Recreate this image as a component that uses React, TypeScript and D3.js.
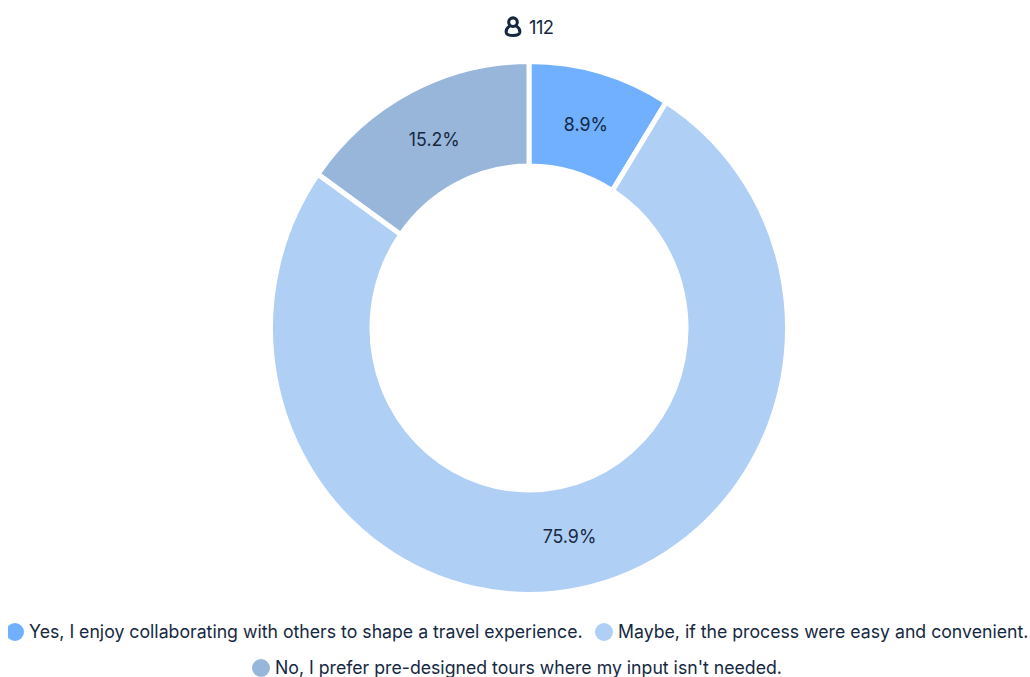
import React from "react";
import * as d3 from "d3";

const categories = [
  "Yes, I enjoy collaborating with others to shape a travel experience.",
  "Maybe, if the process were easy and convenient.",
  "No, I prefer pre-designed tours where my input isn't needed.",
];
const shares = [8.9, 75.9, 15.2];
const colors = ["#70b0ff", "#b0cff5", "#98b5da"];
const respondents = 112;

const WIDTH = 1030;
const HEIGHT = 677;
const CX = 529;
const CY = 328;
const OUTER = 258.5;
const INNER = 157;
const LABEL_RADIUS = 206;
const STRETCH_Y = 1.031;
const INK = "#15283f";
const FONT = "Inter, 'Noto Sans', sans-serif";

// Legend rows: marker centre, text start and baseline for each entry.
const legendX = [
  { marker: 15, text: 29 },
  { marker: 604, text: 618 },
  { marker: 261, text: 275 },
];
const legendY = [632, 632, 668];

const stretchAt = (x: number, y: number) => `translate(${x},${y}) scale(1,${STRETCH_Y})`;

export default function App() {
  const pie = d3.pie<number>().sort(null).value((d) => d);
  const arc = d3.arc<d3.PieArcDatum<number>>().innerRadius(INNER).outerRadius(OUTER);
  const labelArc = d3
    .arc<d3.PieArcDatum<number>>()
    .innerRadius(LABEL_RADIUS)
    .outerRadius(LABEL_RADIUS);
  const slices = pie(shares);

  return (
    <svg
      width={WIDTH}
      height={HEIGHT}
      viewBox={`0 0 ${WIDTH} ${HEIGHT}`}
      style={{ position: "absolute", left: 0, top: 0, display: "block", background: "#fff" }}
      fontFamily={FONT}
    >
      {/* Respondent count with person icon */}
      <g transform="translate(513,27)" fill="none" stroke={INK} strokeWidth={3.1}>
        <circle cx={0} cy={-4.8} r={4.3} />
        <path d="M-3.2,-1 C-6.6,1 -7.2,3 -6.7,5.6 C-6.1,8 -4,8.5 0,8.5 C4,8.5 6.1,8 6.7,5.6 C7.2,3 6.6,1 3.2,-1" />
      </g>
      <text transform={stretchAt(529, 34)} fontSize={18.4} fill={INK} letterSpacing={-0.6}>
        {respondents}
      </text>

      {/* Donut slices */}
      <g transform={stretchAt(CX, CY)}>
        {slices.map((s, i) => (
          <path key={i} d={arc(s) ?? ""} fill={colors[i]} stroke="#fff" strokeWidth={5} />
        ))}
        {slices.map((s, i) => {
          const [x, y] = labelArc.centroid(s);
          return (
            <text
              key={i}
              x={x}
              y={y}
              textAnchor="middle"
              dominantBaseline="central"
              fontSize={17.8}
              fill={INK}
            >
              {`${s.data.toFixed(1)}%`}
            </text>
          );
        })}
      </g>

      {/* Legend; the first marker sits against the page edge margin */}
      <clipPath id="legend-clip">
        <rect x={8} y={0} width={WIDTH - 8} height={HEIGHT} />
      </clipPath>
      {categories.map((c, i) => (
        <g key={c}>
          <circle
            cx={legendX[i].marker}
            cy={legendY[i]}
            r={9}
            fill={colors[i]}
            clipPath="url(#legend-clip)"
          />
          <text transform={stretchAt(legendX[i].text, legendY[i] + 6)} fontSize={17.7} fill={INK}>
            {c}
          </text>
        </g>
      ))}
    </svg>
  );
}
